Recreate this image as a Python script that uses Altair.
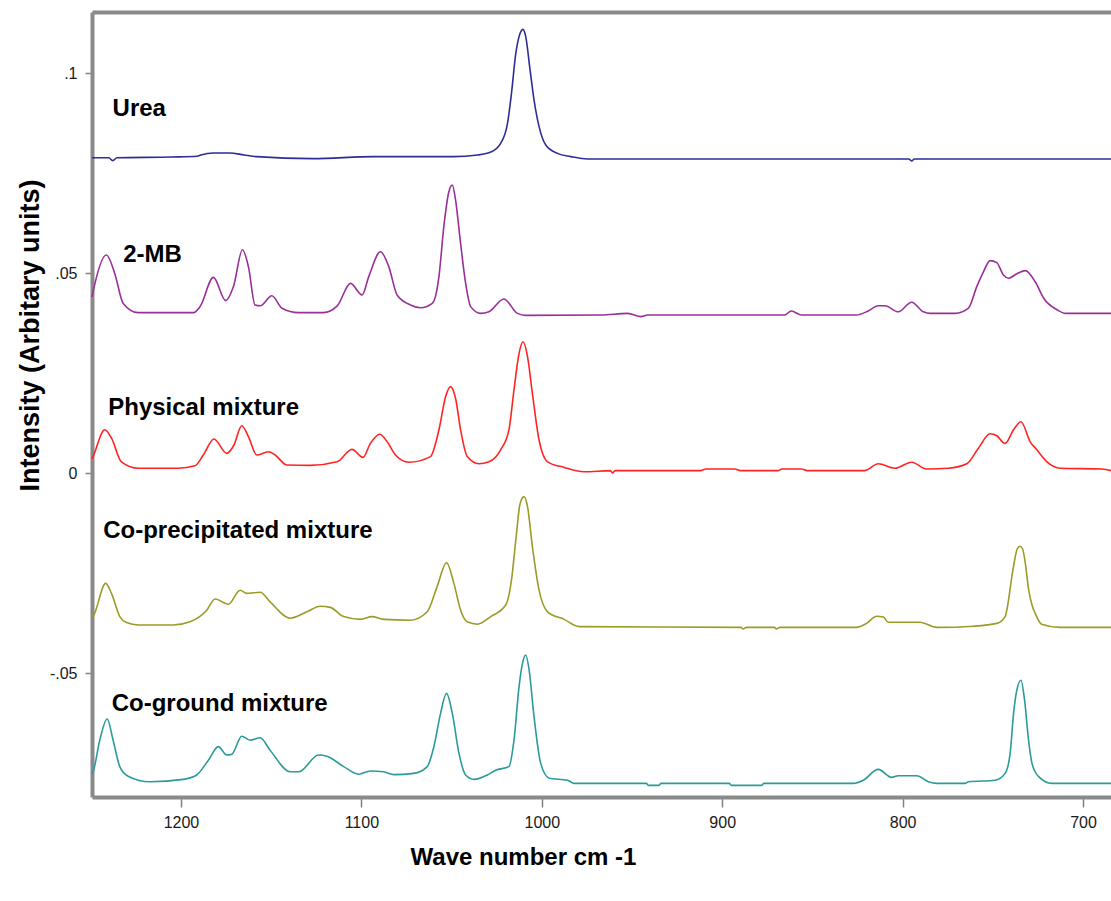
import altair as alt
import pandas as pd

# ---------------- data ----------------
series_names = ["Urea", "2-MB", "Physical mixture", "Co-precipitated mixture", "Co-ground mixture"]
series_colors = ["#2d2d96", "#9a2f9a", "#ff2424", "#9b9b27", "#2b9a9a"]

urea_wn = [1249.3, 1240.0, 1237.8, 1235.5, 1205.0, 1191.0, 1189.0, 1182.0, 1173.0, 1165.0,
           1158.0, 1127.0, 1093.0, 1049.0, 1035.6, 1028.0, 1022.8, 1019.0, 1016.8, 1014.4,
           1012.6, 1010.4, 1008.9, 1006.5, 1004.3, 1001.5, 997.8, 991.3, 983.9, 974.6,
           796.5, 795.0, 793.5, 684.5]
urea_int = [0.0788, 0.0788, 0.0781, 0.0788, 0.0790, 0.0792, 0.0795, 0.0800, 0.0800, 0.0795,
            0.0791, 0.0786, 0.0791, 0.0791, 0.0795, 0.0803, 0.0824, 0.0874, 0.0949, 0.1049,
            0.1091, 0.1109, 0.1091, 0.1008, 0.0933, 0.0866, 0.0820, 0.0799, 0.0791, 0.0785,
            0.0785, 0.0780, 0.0785, 0.0785]

mb_wn = [1249.3, 1248.7, 1241.3, 1236.7, 1232.0, 1223.7, 1193.0, 1189.4, 1182.0, 1175.2,
         1170.9, 1165.9, 1162.6, 1158.9, 1156.0, 1149.6, 1144.0, 1134.8, 1121.0, 1113.5,
         1106.0, 1099.6, 1095.9, 1089.4, 1084.8, 1080.2, 1072.8, 1067.2, 1060.7, 1057.0,
         1054.3, 1051.5, 1049.6, 1047.8, 1045.0, 1042.2, 1039.4, 1033.9, 1029.3, 1021.0,
         1013.5, 1008.9, 967.2, 952.4, 945.0, 941.3, 865.4, 861.7, 856.1, 825.6,
         819.1, 813.5, 809.8, 802.4, 795.0, 788.5, 784.8, 770.9, 763.5, 758.9,
         755.2, 751.5, 747.8, 744.1, 741.3, 736.7, 732.0, 726.5, 721.8, 714.4,
         709.8, 684.5]
mb_int = [0.0440, 0.0453, 0.0545, 0.0499, 0.0424, 0.0401, 0.0401, 0.0416, 0.0489, 0.0431,
          0.0466, 0.0558, 0.0516, 0.0420, 0.0418, 0.0443, 0.0412, 0.0401, 0.0401, 0.0417,
          0.0474, 0.0445, 0.0491, 0.0553, 0.0516, 0.0445, 0.0420, 0.0413, 0.0424, 0.0491,
          0.0616, 0.0703, 0.0720, 0.0683, 0.0574, 0.0474, 0.0416, 0.0399, 0.0403, 0.0435,
          0.0399, 0.0394, 0.0395, 0.0399, 0.0391, 0.0395, 0.0395, 0.0405, 0.0395, 0.0395,
          0.0405, 0.0418, 0.0418, 0.0403, 0.0427, 0.0403, 0.0399, 0.0399, 0.0412, 0.0466,
          0.0503, 0.0531, 0.0526, 0.0495, 0.0487, 0.0498, 0.0506, 0.0478, 0.0437, 0.0408,
          0.0399, 0.0399]

phys_wn = [1249.3, 1248.7, 1242.2, 1238.5, 1233.0, 1223.7, 1201.5, 1192.2, 1187.6, 1181.7,
           1174.6, 1170.6, 1166.3, 1162.6, 1158.0, 1151.5, 1147.8, 1141.3, 1128.3, 1113.5,
           1105.2, 1099.1, 1095.0, 1089.8, 1085.7, 1081.1, 1073.7, 1061.7, 1057.0, 1053.3,
           1050.6, 1047.8, 1045.0, 1041.3, 1034.8, 1029.3, 1022.8, 1018.2, 1015.4, 1012.6,
           1010.4, 1007.9, 1005.2, 1001.5, 996.8, 987.6, 976.5, 962.0, 960.7, 959.4,
           912.0, 909.0, 893.0, 890.0, 869.0, 867.0, 856.0, 853.0, 821.0, 813.5,
           804.3, 795.0, 786.7, 774.6, 764.4, 758.0, 751.5, 747.8, 743.2, 738.5,
           734.4, 729.3, 725.6, 720.0, 712.6, 689.4, 684.5]
phys_int = [0.0035, 0.0041, 0.0108, 0.0087, 0.0028, 0.0012, 0.0012, 0.0018, 0.0045, 0.0085,
            0.0049, 0.0070, 0.0118, 0.0091, 0.0045, 0.0053, 0.0045, 0.0020, 0.0019, 0.0028,
            0.0059, 0.0039, 0.0074, 0.0097, 0.0078, 0.0045, 0.0027, 0.0041, 0.0108, 0.0191,
            0.0216, 0.0187, 0.0108, 0.0041, 0.0023, 0.0028, 0.0058, 0.0108, 0.0208, 0.0299,
            0.0328, 0.0291, 0.0199, 0.0082, 0.0028, 0.0014, 0.0003, 0.0006, 0.0000, 0.0006,
            0.0006, 0.0010, 0.0010, 0.0006, 0.0006, 0.0010, 0.0010, 0.0006, 0.0006, 0.0023,
            0.0012, 0.0027, 0.0010, 0.0012, 0.0023, 0.0062, 0.0098, 0.0093, 0.0074, 0.0108,
            0.0128, 0.0078, 0.0058, 0.0028, 0.0012, 0.0010, 0.0006]

coprec_wn = [1249.3, 1248.7, 1241.7, 1238.5, 1233.9, 1230.2, 1223.7, 1204.3, 1195.0, 1185.7,
             1181.1, 1173.7, 1167.2, 1163.5, 1156.1, 1150.6, 1139.4, 1130.2, 1122.8, 1117.2,
             1109.8, 1100.6, 1094.1, 1087.6, 1072.8, 1063.5, 1058.0, 1052.8, 1048.7, 1045.0,
             1041.3, 1035.7, 1028.3, 1020.0, 1016.8, 1014.4, 1012.0, 1009.8, 1007.9, 1005.2,
             1001.5, 996.8, 987.6, 979.3, 889.5, 888.5, 886.5, 871.0, 870.0, 868.0,
             825.6, 820.0, 814.4, 810.7, 808.0, 790.4, 781.1, 760.7, 747.8, 743.2,
             741.3, 739.5, 738.0, 736.5, 735.0, 733.5, 732.0, 730.2, 728.3, 726.5,
             723.0, 712.8, 684.5]
coprec_int = [-0.0362, -0.0359, -0.0276, -0.0301, -0.0359, -0.0374, -0.0380, -0.0380, -0.0372, -0.0343,
              -0.0315, -0.0328, -0.0293, -0.0301, -0.0298, -0.0322, -0.0363, -0.0347, -0.0333, -0.0336,
              -0.0359, -0.0366, -0.0359, -0.0366, -0.0368, -0.0347, -0.0284, -0.0224, -0.0276, -0.0343,
              -0.0372, -0.0378, -0.0359, -0.0330, -0.0268, -0.0168, -0.0076, -0.0059, -0.0084, -0.0184,
              -0.0293, -0.0347, -0.0366, -0.0384, -0.0386, -0.0390, -0.0386, -0.0386, -0.0390, -0.0386,
              -0.0386, -0.0376, -0.0358, -0.0360, -0.0373, -0.0373, -0.0386, -0.0383, -0.0376, -0.0359,
              -0.0318, -0.0260, -0.0220, -0.0190, -0.0183, -0.0190, -0.0225, -0.0290, -0.0330, -0.0351,
              -0.0378, -0.0386, -0.0386]

cogr_wn = [1249.3, 1248.7, 1245.0, 1240.9, 1237.6, 1233.9, 1229.3, 1217.2, 1198.7, 1191.3,
           1184.8, 1179.3, 1174.6, 1171.8, 1166.3, 1161.7, 1156.1, 1150.6, 1139.4, 1134.8,
           1123.7, 1119.1, 1109.8, 1101.5, 1095.0, 1087.6, 1082.0, 1071.0, 1063.5, 1059.8,
           1056.1, 1052.8, 1049.6, 1045.9, 1042.2, 1037.6, 1030.2, 1025.6, 1018.2, 1015.4,
           1012.6, 1010.7, 1008.9, 1007.0, 1004.3, 1000.6, 995.9, 985.7, 982.0, 942.0,
           941.0, 935.0, 934.0, 896.0, 895.0, 878.0, 877.0, 827.4, 821.8, 813.5,
           806.1, 802.4, 792.2, 785.7, 781.1, 765.4, 763.5, 748.7, 743.2, 740.4,
           738.5, 736.7, 734.4, 732.4, 730.2, 728.3, 724.6, 717.2, 684.5]
cogr_int = [-0.0752, -0.0747, -0.0668, -0.0615, -0.0668, -0.0734, -0.0758, -0.0772, -0.0766, -0.0755,
            -0.0718, -0.0684, -0.0705, -0.0703, -0.0658, -0.0668, -0.0662, -0.0693, -0.0747, -0.0747,
            -0.0705, -0.0708, -0.0734, -0.0753, -0.0745, -0.0747, -0.0754, -0.0751, -0.0734, -0.0684,
            -0.0601, -0.0551, -0.0601, -0.0701, -0.0755, -0.0766, -0.0755, -0.0743, -0.0734, -0.0668,
            -0.0534, -0.0476, -0.0455, -0.0493, -0.0609, -0.0726, -0.0763, -0.0768, -0.0776, -0.0776,
            -0.0781, -0.0781, -0.0776, -0.0776, -0.0781, -0.0781, -0.0776, -0.0776, -0.0768, -0.0741,
            -0.0761, -0.0757, -0.0757, -0.0772, -0.0776, -0.0776, -0.0772, -0.0768, -0.0751, -0.0701,
            -0.0601, -0.0543, -0.0518, -0.0568, -0.0668, -0.0726, -0.0759, -0.0776, -0.0776]

label_text = ["Urea", "2-MB", "Physical mixture", "Co-precipitated mixture", "Co-ground mixture"]
label_wn = [1237.9, 1232.0, 1240.3, 1243.1, 1238.4]
label_int = [0.0893, 0.0528, 0.0145, -0.0163, -0.0594]

x_tick_values = [1200, 1100, 1000, 900, 800, 700]
y_tick_values = [-0.05, 0, 0.05, 0.1]
y_tick_labels = ["-.05", "0", ".05", ".1"]

# ---------------- build table ----------------
all_wn = [urea_wn, mb_wn, phys_wn, coprec_wn, cogr_wn]
all_int = [urea_int, mb_int, phys_int, coprec_int, cogr_int]
rows = []
for name, wns, ints in zip(series_names, all_wn, all_int):
    assert len(wns) == len(ints), name
    for w, v in zip(wns, ints):
        rows.append({"series": name, "wn": w, "intensity": v})
df = pd.DataFrame(rows)
labels_df = pd.DataFrame({"text": label_text, "wn": label_wn, "intensity": label_int})

label_expr = " : ".join(
    [f"datum.value == {v} ? '{t}'" for v, t in zip(y_tick_values, y_tick_labels)]
) + " : ''"

x_scale = alt.Scale(domain=[684.5, 1249.3], reverse=True, nice=False, zero=False)
y_scale = alt.Scale(domain=[-0.081, 0.11525], nice=False, zero=False)

FRAME = "#8a8a8a"
FONT = "Liberation Sans"

x_axis = alt.Axis(
    values=x_tick_values, format="d", grid=False,
    title="Wave number cm -1", titleFont=FONT, titleFontSize=24, titleFontWeight="bold",
    titleColor="black", titleX=431, titleY=60, titleAlign="center", titleBaseline="middle",
    labelFont=FONT, labelFontSize=16, labelColor="#1a1a1a", labelPadding=7,
    tickColor="#808080", tickSize=10, tickWidth=1.5,
    domainColor=FRAME, domainWidth=4,
)
y_axis = alt.Axis(
    values=y_tick_values, labelExpr=label_expr, grid=False,
    title="Intensity (Arbitary units)", titleFont=FONT, titleFontSize=27, titleFontWeight="bold",
    titleColor="black", titleX=-62, titleY=323, titleAlign="center", titleBaseline="middle",
    titleAngle=270,
    labelFont=FONT, labelFontSize=16, labelColor="#1a1a1a", labelPadding=8,
    tickColor="#808080", tickSize=7, tickWidth=1.5,
    domainColor=FRAME, domainWidth=4,
)
top_axis = alt.Axis(
    orient="top", labels=False, ticks=False, grid=False, title=None,
    domainColor=FRAME, domainWidth=4,
)

lines = alt.Chart(df).mark_line(strokeWidth=1.6, interpolate="monotone").encode(
    x=alt.X("wn:Q", scale=x_scale, axis=x_axis),
    y=alt.Y("intensity:Q", scale=y_scale, axis=y_axis),
    color=alt.Color("series:N", scale=alt.Scale(domain=series_names, range=series_colors), legend=None),
)

texts = alt.Chart(labels_df).mark_text(
    align="left", baseline="alphabetic", font=FONT, fontSize=24, fontWeight="bold", color="black"
).encode(
    x=alt.X("wn:Q", scale=x_scale, axis=top_axis),
    y=alt.Y("intensity:Q", scale=y_scale, axis=y_axis),
    text="text:N",
)

chart = alt.layer(lines, texts).resolve_axis(x="independent").properties(
    width=1019, height=785,
    padding={"left": 92, "top": 12, "right": 0, "bottom": 104},
    autosize=alt.AutoSizeParams(type="none"),
    background="white",
).configure_view(stroke=None)

chart.save("out.html", embed_options={"renderer": "svg", "actions": False})
